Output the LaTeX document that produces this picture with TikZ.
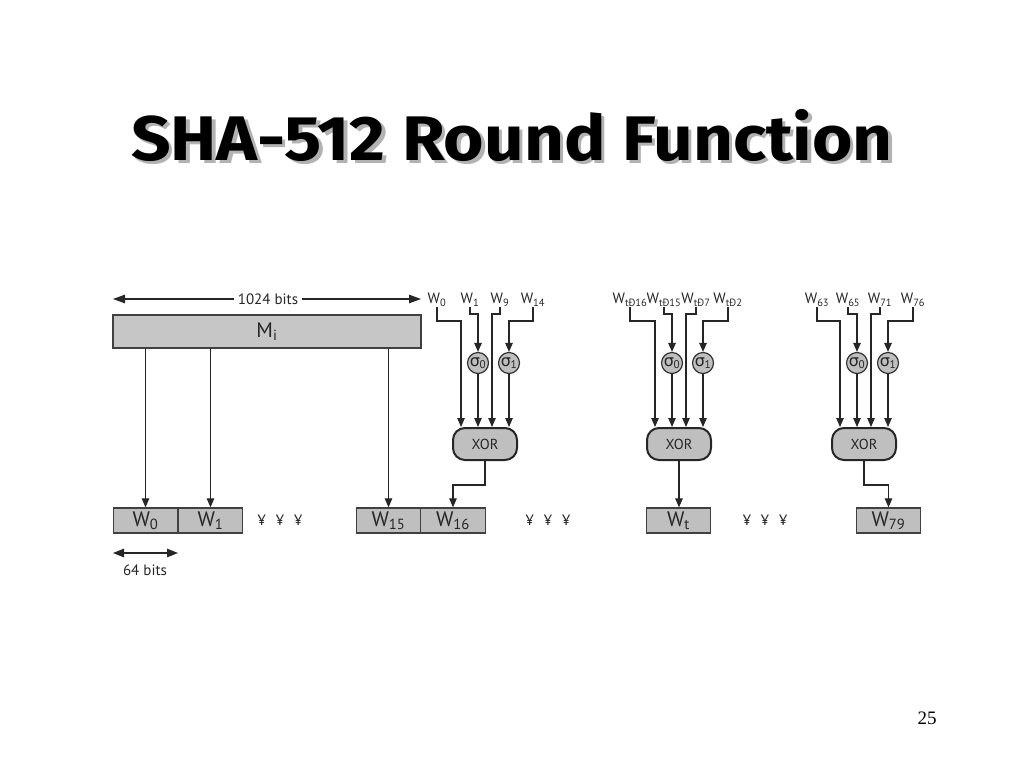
\documentclass[tikz,border=0pt]{standalone}
\usepackage{fontspec}
\setmainfont{PT Sans}
\newfontfamily\titlefont{Fira Sans}
\newfontfamily\numfont{Liberation Serif}
\newfontfamily\gfont{DejaVu Sans}
\usetikzlibrary{arrows.meta}
\newcommand{\Wsub}[1]{W\textsubscript{#1}}
\newcommand{\sigsub}[1]{{\gfont σ}\kern-0.5pt\textsubscript{#1}}
\tikzset{
  conn/.style={draw=black!85, line width=1.1pt, -{Triangle[length=9pt,width=7.5pt]}},
  wbox/.style={draw=black!75, line width=1.3pt, fill=gray!50, minimum width=64.5pt, minimum height=25pt, inner sep=0pt, text=black!85, font=\fontsize{21}{21}\selectfont},
  mbox/.style={draw=black!75, line width=1.3pt, fill=gray!45, minimum width=308pt, minimum height=33pt, inner sep=0pt, text=black!85, font=\fontsize{21}{21}\selectfont},
  xorbox/.style={draw=black!85, line width=2pt, fill=gray!50, rounded corners=12pt, minimum width=64pt, minimum height=32pt, inner sep=0pt, text=black!85, font=\fontsize{14.5}{14.5}\selectfont},
  sig/.style={circle, draw=black!80, line width=1.2pt, fill=gray!50, minimum size=21pt, inner sep=0pt, text=black!85, font=\fontsize{16}{16}\selectfont},
  lab/.style={anchor=south, inner sep=0.5pt, text=black!85, font=\fontsize{15}{15}\selectfont},
  txt/.style={inner sep=0pt, text=black!85, font=\fontsize{15}{15}\selectfont},
}
\begin{document}
\begin{tikzpicture}[x=1pt,y=-1pt]
\useasboundingbox (0,0) rectangle (1024,768);
% title
\node[text=gray!60, font=\titlefont\bfseries\fontsize{63}{63}\selectfont] at (515.5,138.5) {\scalebox{1.1}[1]{SHA-512 Round Function}};
\node[text=black, font=\titlefont\bfseries\fontsize{63}{63}\selectfont] (title) at (512,135) {\scalebox{1.1}[1]{SHA-512 Round Function}};
% page number
\node[font=\numfont\fontsize{19}{19}\selectfont] (pnum) at (927,718) {25};

% M_i and 1024 bits
\node[mbox] (M) at (267,331.5) {M\textsubscript{i}};
\node[txt, inner xsep=4pt] (b1024) at (268,299) {1024 bits};
\coordinate (L1024) at (113,299);
\coordinate (R1024) at (421,299);
\draw[conn, -{Triangle[length=12pt,width=8.5pt]}] (b1024.west) -- (L1024);
\draw[conn, -{Triangle[length=12pt,width=8.5pt]}] (b1024.east) -- (R1024);

% word boxes
\node[wbox] (W0) at (145.5,520.5) {\Wsub{0}};
\node[wbox] (W1) at (210.5,520.5) {\Wsub{1}};
\node[wbox] (W15) at (388.5,520.5) {\Wsub{15}};
\node[wbox] (W16) at (453,520.5) {\Wsub{16}};
\node[wbox] (Wt) at (678.5,520.5) {\Wsub{t}};
\node[wbox] (W79) at (888.5,520.5) {\Wsub{79}};

\node[txt] (dots1) at (280,520) {¥\hspace{10pt}¥\hspace{10pt}¥};
\node[txt] (dots2) at (548,520) {¥\hspace{10pt}¥\hspace{10pt}¥};
\node[txt] (dots3) at (765,520) {¥\hspace{10pt}¥\hspace{10pt}¥};

% 64 bits
\coordinate (L64) at (113,553);
\coordinate (R64) at (178,553);
\draw[conn, {Triangle[length=11pt,width=8.5pt]}-{Triangle[length=11pt,width=8.5pt]}] (L64) -- (R64);
\node[txt] (b64) at (145,570) {64 bits};

% M_i to words
\draw[conn] (M.south -| W0.north) -- (W0.north);
\draw[conn] (M.south -| W1.north) -- (W1.north);
\draw[conn] (M.south -| W15.north) -- (W15.north);

% group 1
\node[xorbox] (X1) at (485,444) {XOR};
\node[sig] (s01) at (478,363) {\sigsub{0}};
\node[sig] (s11) at (509,363) {\sigsub{1}};
\node[lab] (a11) at (437,307) {\Wsub{0}};
\node[lab] (a12) at (470,307) {\Wsub{1}};
\node[lab] (a13) at (500,307) {\Wsub{9}};
\node[lab] (a14) at (533,307) {\Wsub{14}};
\draw[conn] (a11.south) -- ++(0,14) -| ([xshift=-24pt]X1.north);
\draw[conn] (a12.south) -- ++(0,7) -| (s01.north);
\draw[conn] (a13.south) -- ++(0,7) -| ([xshift=7pt]X1.north);
\draw[conn] (a14.south) -- ++(0,14) -| (s11.north);
\draw[conn] (s01.south) -- (s01.south |- X1.north);
\draw[conn] (s11.south) -- (s11.south |- X1.north);
\draw[conn] (X1.south) -- ++(0,24) -| (W16.north);

% group 2
\node[xorbox] (X2) at (679,444) {XOR};
\node[sig] (s02) at (672,363) {\sigsub{0}};
\node[sig] (s12) at (703,363) {\sigsub{1}};
\node[lab] (a21) at (630,307) {\Wsub{tÐ16}};
\node[lab] (a22) at (664,307) {\Wsub{tÐ15}};
\node[lab] (a23) at (696,307) {\Wsub{tÐ7}};
\node[lab] (a24) at (728,307) {\Wsub{tÐ2}};
\draw[conn] (a21.south) -- ++(0,14) -| ([xshift=-24pt]X2.north);
\draw[conn] (a22.south) -- ++(0,7) -| (s02.north);
\draw[conn] (a23.south) -- ++(0,7) -| ([xshift=7pt]X2.north);
\draw[conn] (a24.south) -- ++(0,14) -| (s12.north);
\draw[conn] (s02.south) -- (s02.south |- X2.north);
\draw[conn] (s12.south) -- (s12.south |- X2.north);
\draw[conn] (X2.south) -- (X2.south |- Wt.north);

% group 3
\node[xorbox] (X3) at (864,444) {XOR};
\node[sig] (s03) at (857,363) {\sigsub{0}};
\node[sig] (s13) at (888,363) {\sigsub{1}};
\node[lab] (a31) at (817,307) {\Wsub{63}};
\node[lab] (a32) at (848,307) {\Wsub{65}};
\node[lab] (a33) at (880,307) {\Wsub{71}};
\node[lab] (a34) at (913,307) {\Wsub{76}};
\draw[conn] (a31.south) -- ++(0,14) -| ([xshift=-24pt]X3.north);
\draw[conn] (a32.south) -- ++(0,7) -| (s03.north);
\draw[conn] (a33.south) -- ++(0,7) -| ([xshift=7pt]X3.north);
\draw[conn] (a34.south) -- ++(0,14) -| (s13.north);
\draw[conn] (s03.south) -- (s03.south |- X3.north);
\draw[conn] (s13.south) -- (s13.south |- X3.north);
\draw[conn] (X3.south) -- ++(0,24) -| (W79.north);
\end{tikzpicture}
\end{document}
